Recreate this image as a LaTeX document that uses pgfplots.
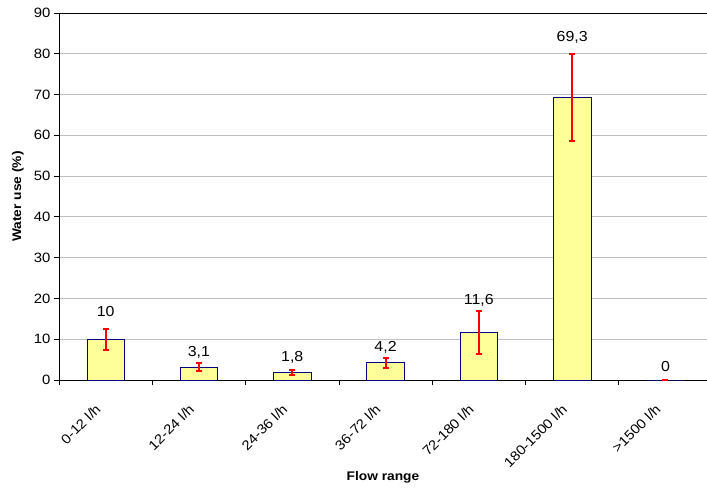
\documentclass[border=0pt]{standalone}
\usepackage{pgfplots}
\pgfplotsset{compat=1.18}
\usepackage{fontspec}
\setmainfont{Liberation Sans}[FakeStretch=1.1]
\definecolor{barfill}{HTML}{FFFF99}
\definecolor{barline}{HTML}{000080}
\definecolor{gridc}{HTML}{C0C0C0}
\begin{document}
\begin{tikzpicture}
\begin{axis}[
  at={(0,0)}, anchor=south west,
  scale only axis,
  width=648bp, height=367bp,
  xmin=-0.5, xmax=6.445,
  ymin=0, ymax=90,
  ytick={0,10,...,90},
  axis y line*=left,
  axis x line*=box,
  axis line style={black, line width=0.8bp},
  ymajorgrids,
  grid style={gridc, line width=0.8bp},
  xtick={0,1,2,3,4,5,6},
  xticklabels={0-12 l/h,12-24 l/h,24-36 l/h,36-72 l/h,72-180 l/h,180-1500 l/h,>1500 l/h},
  minor xtick={-0.5,0.5,1.5,2.5,3.5,4.5,5.5},
  major x tick style={draw=none},
  minor x tick style={black, line width=0.8bp},
  minor tick length=5bp,
  major tick length=5bp,
  tick align=outside,
  ytick pos=left,
  xtick pos=bottom,
  y tick style={black, line width=0.8bp},
  tick label style={font=\fontsize{13.5bp}{16bp}\selectfont},
  /pgf/number format/assume math mode=true,
  x tick label style={anchor=north east, inner sep=0pt, xshift=-11bp, yshift=-18bp, rotate=45},
  ylabel={\textbf{Water use (\%)}},
  xlabel={\textbf{Flow range}},
  label style={font=\fontsize{12.5bp}{15bp}\selectfont},
  xlabel style={at={(axis description cs:0.5,0)}, anchor=center, yshift=-97bp},
  ylabel style={at={(axis description cs:0,0.5)}, anchor=center, yshift=41bp},
  clip=false,
]
\addplot[ybar, bar width=37.5bp, fill=barfill, draw=barline, line width=0.8bp,
  error bars/.cd, y dir=both, y explicit,
  error bar style={red, line width=2bp},
  error mark options={red, line width=2bp, mark size=3bp, rotate=90}]
  coordinates {
  (0,10) +- (0,2.55)
  (1,3.1) +- (0,1.0)
  (2,1.8) +- (0,0.65)
  (3,4.2) +- (0,1.2)
  (4,11.6) +- (0,5.2)
  (5,69.3) +- (0,10.6)
  (6,0) +- (0,0.05)
  };
\addplot[draw=none, mark=none, nodes near coords, point meta=explicit symbolic,
  nodes near coords style={anchor=center, font=\fontsize{14.5bp}{17bp}\selectfont, black}]
  coordinates {
  (0,16.75) [10]
  (1,6.87) [3,1]
  (2,5.47) [1,8]
  (3,7.92) [4,2]
  (4,19.6) [11,6]
  (5,84.1) [69,3]
  (6,3.43) [0]
  };
\end{axis}
\pgfresetboundingbox
\path (-59bp,-108bp) rectangle (648bp,380bp);
\end{tikzpicture}
\end{document}
